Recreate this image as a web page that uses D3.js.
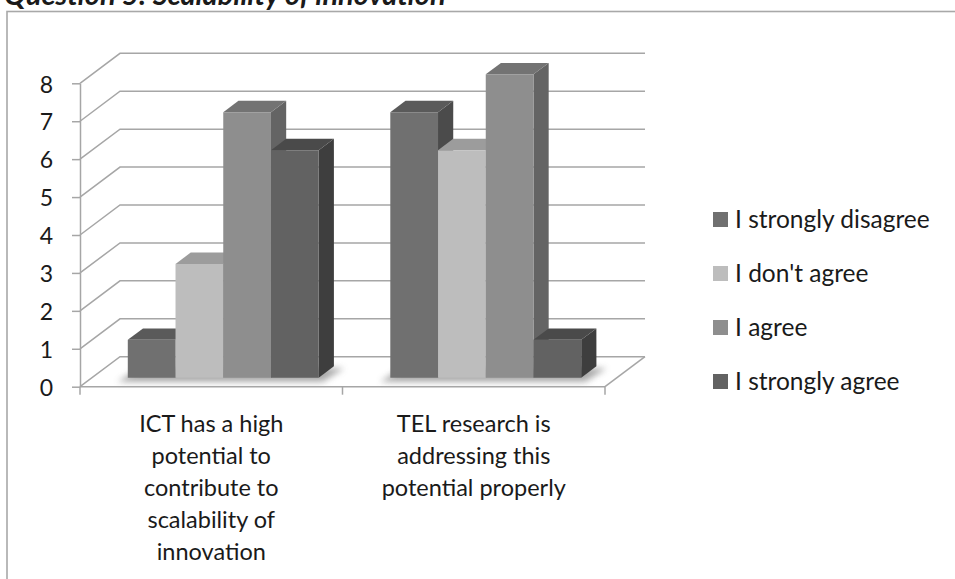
<!DOCTYPE html>
<html>
<head>
<meta charset="utf-8">
<script src="https://cdn.jsdelivr.net/npm/d3@7"></script>
<style>
  html, body { margin: 0; padding: 0; background: #fff; }
  svg { display: block; }
  text { font-family: Lato, "Open Sans", sans-serif; fill: #1a1a1a; }
</style>
</head>
<body>
<script>
// Survey answers, Question 5: Scalability of innovation
const categories = [
  "ICT has a high potential to contribute to scalability of innovation",
  "TEL research is addressing this potential properly"
];
const categoryLines = [
  ["ICT has a high", "potential to", "contribute to", "scalability of", "innovation"],
  ["TEL research is", "addressing this", "potential properly"]
];
const seriesNames = ["I strongly disagree", "I don't agree", "I agree", "I strongly agree"];
const stronglyDisagree = [1, 7];
const dontAgree = [3, 6];
const agree = [7, 8];
const stronglyAgree = [6, 1];
const yTicks = [0, 1, 2, 3, 4, 5, 6, 7, 8];
const titleText = "Question 5: Scalability of innovation";

const seriesValues = [stronglyDisagree, dontAgree, agree, stronglyAgree];

// face shades per series: front, top, side
const shades = [
  { front: "#707070", top: "#5a5a5a", side: "#4b4b4b" },
  { front: "#bdbdbd", top: "#9c9c9c", side: "#8a8a8a" },
  { front: "#8e8e8e", top: "#737373", side: "#646464" },
  { front: "#626262", top: "#4a4a4a", side: "#3e3e3e" }
];

const W = 955, H = 579;
const svg = d3.select("body").append("svg").attr("width", W).attr("height", H);

const defs = svg.append("defs");
defs.append("filter").attr("id", "soft").attr("x", "-20%").attr("y", "-50%")
  .attr("width", "140%").attr("height", "200%")
  .append("feGaussianBlur").attr("stdDeviation", 3);

// chart frame
svg.append("rect")
  .attr("x", 7).attr("y", 11.5).attr("width", W + 20).attr("height", H + 20)
  .attr("fill", "#fff").attr("stroke", "#a8a8a8").attr("stroke-width", 1.6);

// title (sits above the frame, running off the top of the page)
svg.append("text")
  .attr("x", 4).attr("y", 5)
  .attr("font-size", 29).attr("font-weight", "bold").attr("font-style", "italic")
  .text(titleText);

// 3D projection: front plane plus an oblique depth offset
const DX = 40, DY = -30;
const x = d3.scaleBand().domain(categories).range([80, 605]);
const xs = d3.scaleBand().domain(seriesNames).range([0, x.bandwidth()]).paddingOuter(0.75);
const y = d3.scaleLinear().domain([0, 8]).range([386.7, 83.3]);
const P = (xv, yv, f) => [xv + f * DX, yv + f * DY];
const poly = pts => "M" + pts.map(p => p.join(",")).join("L") + "Z";
const line = pts => "M" + pts.map(p => p.join(",")).join("L");

const xLeft = x.range()[0], xRight = x.range()[1];
const gridColor = "#a6a6a6";

// side wall + back wall gridlines
const grid = svg.append("g");
grid.selectAll("path.grid").data(yTicks).join("path")
  .attr("class", "grid")
  .attr("d", t => line([P(xLeft, y(t), 0), P(xLeft, y(t), 1), P(xRight, y(t), 1)]))
  .attr("fill", "none").attr("stroke", gridColor).attr("stroke-width", 1.5);

// floor right edge
grid.append("path")
  .attr("d", line([P(xRight, y(0), 0), P(xRight, y(0), 1)]))
  .attr("fill", "none").attr("stroke", gridColor).attr("stroke-width", 1.5);

// bars
const F0 = 0.3, F1 = 0.68;
const barsG = svg.append("g");
categories.forEach((c, ci) => {
  const gx0 = x(c) + xs(seriesNames[0]);
  const gx1 = x(c) + xs(seriesNames[seriesNames.length - 1]) + xs.bandwidth();
  // soft contact shadow on the floor
  barsG.append("path")
    .attr("d", poly([
      [P(gx0, y(0), F0)[0] - 10, P(gx0, y(0), F0)[1] + 4],
      [P(gx1, y(0), F0)[0] + 4, P(gx1, y(0), F0)[1] + 4],
      [P(gx1, y(0), F1)[0] + 10, P(gx1, y(0), F1)[1] + 2],
      [P(gx0, y(0), F1)[0] - 4, P(gx0, y(0), F1)[1] + 2]
    ]))
    .attr("fill", "#8c8c8c").attr("opacity", 0.75).attr("filter", "url(#soft)");

  seriesNames.forEach((s, si) => {
    const v = seriesValues[si][ci];
    const x0 = x(c) + xs(s), x1 = x0 + xs.bandwidth();
    const sh = shades[si];
    const g = barsG.append("g");
    g.append("path")
      .attr("d", poly([P(x1, y(0), F0), P(x1, y(v), F0), P(x1, y(v), F1), P(x1, y(0), F1)]))
      .attr("fill", sh.side);
    g.append("path")
      .attr("d", poly([P(x0, y(v), F0), P(x1, y(v), F0), P(x1, y(v), F1), P(x0, y(v), F1)]))
      .attr("fill", sh.top);
    g.append("path")
      .attr("d", poly([P(x0, y(v), F0), P(x1, y(v), F0), P(x1, y(0), F0), P(x0, y(0), F0)]))
      .attr("fill", sh.front);
  });
});

// value axis
const yAxis = svg.append("g")
  .attr("transform", `translate(${xLeft},0)`)
  .call(d3.axisLeft(y).tickValues(yTicks).tickSize(8).tickSizeOuter(0).tickPadding(19));
yAxis.select(".domain").attr("stroke", gridColor).attr("stroke-width", 1.5);
yAxis.selectAll(".tick line").attr("stroke", gridColor).attr("stroke-width", 1.5);
yAxis.selectAll(".tick text")
  .attr("font-size", 23).attr("fill", "#1a1a1a").attr("dy", "0.38em")
  .style("font-family", "Lato, 'Open Sans', sans-serif");

// category axis: floor front edge with ticks at band boundaries
const catAxis = svg.append("g");
catAxis.append("path")
  .attr("d", line([[xLeft, y(0)], [xRight, y(0)]]))
  .attr("stroke", gridColor).attr("stroke-width", 1.5).attr("fill", "none");
const bounds = [xLeft].concat(categories.map(c => x(c) + x.bandwidth()));
catAxis.selectAll("line.ct").data(bounds).join("line")
  .attr("class", "ct")
  .attr("x1", d => d).attr("x2", d => d)
  .attr("y1", y(0)).attr("y2", y(0) + 8)
  .attr("stroke", gridColor).attr("stroke-width", 1.5);

// category labels
categories.forEach((c, ci) => {
  const t = svg.append("text")
    .attr("text-anchor", "middle")
    .attr("font-size", 23.5);
  categoryLines[ci].forEach((ln, li) => {
    t.append("tspan")
      .attr("x", x(c) + x.bandwidth() / 2)
      .attr("y", 432 + li * 32)
      .text(ln);
  });
});

// legend
const legend = svg.append("g").attr("transform", "translate(713,0)");
const legendY = d3.scalePoint().domain(seriesNames).range([219.5, 381.5]);
seriesNames.forEach((s, si) => {
  legend.append("rect")
    .attr("x", 0).attr("y", legendY(s) - 7.5)
    .attr("width", 15).attr("height", 15)
    .attr("fill", shades[si].front);
  legend.append("text")
    .attr("x", 22).attr("y", legendY(s))
    .attr("dy", "0.36em")
    .attr("font-size", 24.5)
    .text(s);
});
</script>
</body>
</html>
